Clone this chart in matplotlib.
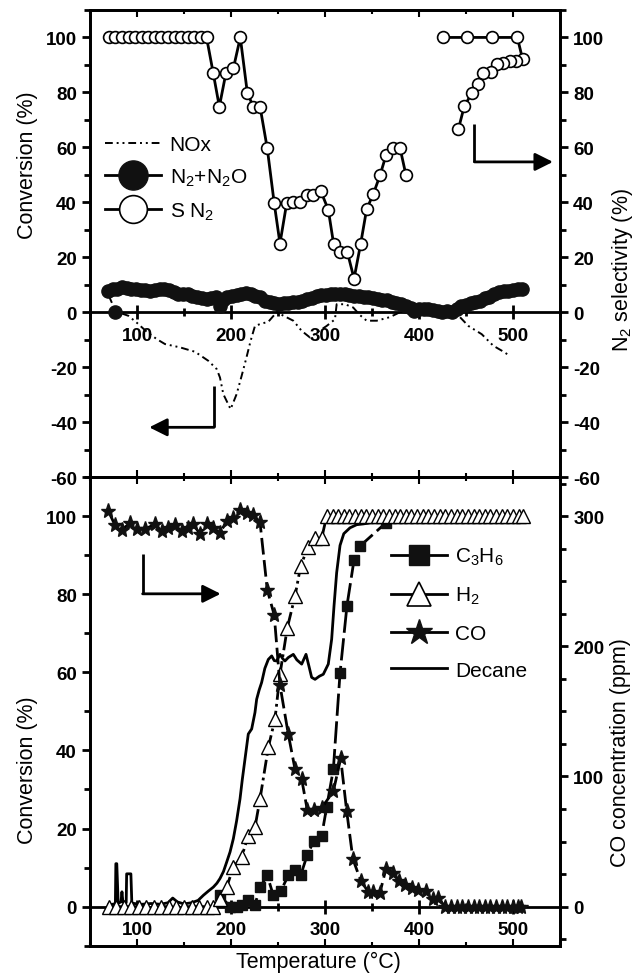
import matplotlib
matplotlib.use("Agg")
import matplotlib.pyplot as plt
import numpy as np
from matplotlib.lines import Line2D
from matplotlib.ticker import MultipleLocator

plt.rcParams['font.family'] = ['Liberation Sans', 'DejaVu Sans']
plt.rcParams['axes.unicode_minus'] = False
plt.rcParams['mathtext.default'] = 'regular'

# ---- top panel: NOx / N2+N2O conversion and N2 selectivity ----
nox_x = [70, 77, 84, 90.8, 99.7, 110, 121, 129.8, 145.7, 161.7, 175.9, 184.8, 188.3, 191.8, 199.6,
         206, 211.3, 216, 220.9, 225.5, 232, 239.7, 248.6, 257, 266.3, 275.2, 284, 293, 301.8, 310.6,
         312.4, 321.3, 330, 337, 344.3, 355, 369, 379.8, 390, 400, 410, 420, 436.5, 443.6, 452.5,
         466.7, 479, 488, 496.8]
nox_y = [6, 0.5, -0.5, -1.3, -3.8, -7, -9.8, -11.6, -12.8, -14.4, -17.7, -20.7, -23.8, -29.8, -35.3,
         -29.8, -23.2, -17.1, -10.4, -5, -4.2, -3.5, 0, -1.5, -3.1, -6.8, -9.2, -7, -5, -2.6,
         2.9, 2.9, 1.7, -1, -3.1, -3.1, -1.8, 0, 0, 0, 0, 0, 0, -1.8, -5,
         -8, -12.2, -14, -15.9]

n2_x = [77, np.nan, 69, 74, 79, 84, 89, 94, 99, 104, 109, 114, 119, 124, 129, 134, 139, 144, 149, 154,
        159, 164, 169, 174, 179, 184, 188, 192, 196, 201, 206, 211, 216, 221, 226, 231, 236, 241,
        246, 251, 256, 261, 266, 271, 276, 281, 286, 291, 296, 301, 306, 311, 316, 321, 326, 331,
        336, 341, 346, 351, 356, 361, 366, 371, 376, 381, 386, 391, 395, 400, 405, 410, 415, 420,
        425, 430, 435, 440, 445, 450, 455, 460, 465, 470, 475, 480, 485, 490, 495, 500, 505, 510]
n2_y = [0, np.nan, 7.8, 8.3, 8.6, 9.0, 8.8, 8.6, 8.5, 8.2, 7.9, 7.8, 8.0, 8.3, 8.5, 8.2, 7.3, 6.7, 6.6, 6.7,
        6.0, 5.5, 5.0, 4.8, 5.0, 5.5, 2.4, 4.5, 5.5, 6.0, 6.1, 6.5, 7.0, 6.5, 5.8, 5.5, 4.2, 3.6,
        3.2, 3.0, 3.2, 3.4, 3.6, 3.8, 4.2, 4.7, 5.2, 5.8, 6.2, 6.3, 6.5, 6.7, 6.8, 6.5, 6.1, 6.0,
        5.8, 5.6, 5.5, 5.2, 4.8, 4.6, 4.3, 3.8, 3.4, 3.0, 2.4, 1.5, 0.6, 1.2, 1.2, 1.2, 0.8, 0.3,
        0, 0.6, 0, 1.2, 2.4, 2.8, 3.2, 3.6, 4.2, 5.0, 5.6, 6.8, 7.4, 7.6, 7.8, 8.0, 8.4, 8.6]

sn2_x = [70, 77, 84, 91, 98, 105, 112, 119, 126, 133, 140, 147, 154, 161, 168, 174,
         181, 187.6, 194.7, 202.5, 209.9, 217.4, 223.7, 230.9, 238.6, 246, 252.1, 259.2, 266.3,
         273.4, 280.5, 287.6, 295.6, 303.5, 309.1, 316, 323.7, 330.9, 338, 344.3, 351.4, 358.5,
         364.9, 372, 379.8, 386.2, np.nan,
         425.2, 450.7, 477.3, 504.6, 510.3, 503.2, 496.8, 489.7, 482.6, 476.6, 468.4, 462.4,
         456, 448.2, 441.8]
sn2_y = [100] * 16 + [87.2, 74.8, 87.2, 88.7, 100, 79.8, 74.8, 74.8, 59.6, 39.6, 25, 39.6, 40,
                      40, 42.5, 42.7, 44, 37.3, 25, 22, 22, 12.2, 25, 37.5, 43, 49.8,
                      57.1, 59.8, 59.8, 49.8, np.nan,
                      100, 100, 100, 100, 92, 91.6, 91.3, 90.7, 90.5, 87.4, 87.2, 83.1,
                      79.6, 75, 66.5]

# ---- bottom panel: reductant conversion and CO concentration ----
c3h6_x = [188.3, 199, 206, 211.3, 218.4, 225.5, 230.9, 238.6, 245, 252.8, 261, 268.1, 274.1,
          281.2, 288.3, 296.5, 301.8, 308.9, 316, 323.4, 330.9, 337.6, 364.9]
c3h6_y = [2.9, 0, 0, 0.3, 1.6, 0.5, 5, 8, 2.9, 3.9, 8, 9.3, 8,
          13.3, 16.9, 18.2, 25.5, 35.2, 59.8, 77.1, 88.8, 92.4, 98.3]

h2_x = [70, 78, 86, 94, 102, 110, 118, 126, 134, 142, 150, 158, 166, 174, 181, 188.3, 195.4,
        202.5, 211.3, 218.4, 225.5, 230.9, 239.7, 246.8, 252.1, 259.9, 268.1, 274.1, 282, 289.4,
        296.5, 301.8, 308, 314, 320, 326, 332, 338, 344, 350, 356, 362, 368, 374, 380, 386, 392,
        398, 404, 410, 416, 422, 428, 434, 440, 446, 452, 458, 464, 470, 476, 482, 488, 494,
        500, 506, 511]
h2_y = [0] * 15 + [2.0, 5.0, 10.1, 12.7, 18.2, 20.3, 27.6, 40.8, 48.0, 59.5, 71.4, 79.5, 87.2,
                   92.2, 94.4, 94.4] + [100] * 36

co_x = [69.5, 76.6, 83.7, 92.6, 99.7, 108.5, 119.1, 126.3, 133.3, 140.4, 147.5, 154.6, 159.9,
        167, 174.1, 181.2, 188.3, 195.4, 202.5, 209.6, 216.7, 223.7, 230.9, 238.6, 246, 252.1,
        261, 268.1, 275.2, 281.2, 288.3, 296.5, 308.9, 316.7, 323.1, 329.7, 338, 346.1, 351.4,
        358.5, 364.9, 372, 379, 385.1, 392.2, 399.3, 407.1, 414.6, 420.5, 427.7, 434, 440, 446,
        452, 458, 464, 470, 476, 482, 488, 494, 500, 505, 509]
co_ppm = [304, 293, 289.5, 294.6, 290, 290, 293.8, 288.2, 290.8, 292.8, 288.2, 290.8, 293.8,
          286.2, 293.8, 290.8, 286.9, 296.4, 298.5, 304.9, 302.3, 301, 295.1, 243.3, 224, 170.2,
          132.3, 105.6, 97.9, 74.1, 74.1, 75.8, 88.7, 113.8, 73.3, 36.5, 20, 11.3, 11.3,
          10.8, 29.2, 26.2, 19.5, 16.4, 14.4, 12.6, 11.8, 6.2, 6.7, 0, 0, 0, 0,
          0, 0, 0, 0, 0, 0, 0, 0, 0, 0, 0]

dec_x = [70, 74, 77, 77.5, 78.5, 80, 81, 83, 84, 85, 87, 88.5, 89, 93.5, 94.5, 97, 105, 115, 125,
         133, 138, 140, 143, 150, 158, 165, 170.6, 176, 181.2, 185, 188.3, 192, 195.4, 199, 202.5,
         206, 209.6, 212, 214.9, 218.4, 222, 225.5, 227.3, 230, 232.6, 236, 239.7, 243.3, 246,
         248.6, 252.1, 255, 257.4, 261, 266.3, 270, 275.2, 279.8, 283, 285.8, 289.4, 294, 298.2,
         303.5, 307.1, 309.6, 312.4, 316, 320, 326.6, 333.7, 340.8, 358.5, 380, 420, 460, 505]
dec_y = [0.5, 0.6, 0.8, 11, 11, 0.8, 1.0, 1.2, 3.8, 1.2, 1.0, 1.0, 8.4, 8.4, 1.0, 0.8, 0.6, 0.8, 0.6,
         1.0, 2.2, 1.8, 1.2, 0.7, 1.0, 1.6, 2.9, 4.0, 5.0, 6.0, 7.2, 9.0, 11.4, 14.0, 17.4,
         22.0, 27.6, 32.5, 37.8, 44.2, 45.5, 49.7, 53.1, 55.5, 57.4, 61.0, 63.3, 64.2, 63.0,
         62.9, 64.6, 63.5, 62.9, 63.8, 64.6, 63.2, 62.1, 64.6, 61.5, 58.7, 58.2, 59.0, 59.5,
         62.1, 68.5, 77, 85.5, 92.5, 95.5, 97, 97.8, 98, 98.7, 99.2, 99.4, 99.5, 99.5]

x_ticks = [100, 200, 300, 400, 500]

TICK = 13.5
LAB = 15.5


def bold(labels):
    for t in labels:
        t.set_fontweight('bold')
        t.set_fontsize(TICK)


def style(ax, ylo, yhi, ymaj, ymin):
    ax.set_xlim(50, 550)
    ax.set_ylim(ylo, yhi)
    for s in ax.spines.values():
        s.set_linewidth(2)
    ax.xaxis.set_major_locator(MultipleLocator(100))
    ax.xaxis.set_minor_locator(MultipleLocator(50))
    ax.yaxis.set_major_locator(MultipleLocator(ymaj))
    ax.yaxis.set_minor_locator(MultipleLocator(ymin))
    ax.tick_params(axis='x', which='both', direction='in', top=True, bottom=True,
                   labelbottom=False, width=1.5)
    ax.tick_params(axis='x', which='major', length=5)
    ax.tick_params(axis='x', which='minor', length=3)
    ax.tick_params(axis='y', which='both', direction='out', width=2)
    ax.tick_params(axis='y', which='major', length=6)
    ax.tick_params(axis='y', which='minor', length=4)
    bold(ax.get_yticklabels())
    # x axis drawn through y = 0
    sec = ax.secondary_xaxis((0 - ylo) / (yhi - ylo))
    sec.spines['bottom'].set_linewidth(2)
    sec.set_xticks(x_ticks)
    sec.xaxis.set_minor_locator(MultipleLocator(50))
    sec.tick_params(which='both', direction='inout', width=2, pad=5.5)
    sec.tick_params(which='major', length=10)
    sec.tick_params(which='minor', length=6)
    bold(sec.get_xticklabels())


def twin(ax, ylo, yhi, ymaj, ymin):
    r = ax.twinx()
    r.set_ylim(ylo, yhi)
    r.yaxis.set_major_locator(MultipleLocator(ymaj))
    r.yaxis.set_minor_locator(MultipleLocator(ymin))
    r.tick_params(axis='y', which='both', direction='out', width=2)
    r.tick_params(axis='y', which='major', length=6)
    r.tick_params(axis='y', which='minor', length=4)
    for s in r.spines.values():
        s.set_linewidth(2)
    bold(r.get_yticklabels())
    return r


def l_arrow(ax, x0, y0, y1, x1):
    ax.plot([x0, x0], [y0, y1], color='k', lw=2, solid_capstyle='butt')
    ax.annotate('', xy=(x1, y1), xytext=(x0, y1),
                arrowprops=dict(arrowstyle='-|>', lw=2, color='k', mutation_scale=27,
                                shrinkA=0, shrinkB=0))


fig = plt.figure(figsize=(6.36, 9.79), dpi=100)
ax1 = fig.add_axes([0.1415, 0.5117, 0.739, 0.4771])
ax2 = fig.add_axes([0.1415, 0.0330, 0.739, 0.4787])

# top panel
style(ax1, -60, 110, 20, 10)
ax1r = twin(ax1, -60, 110, 20, 10)
ax1.plot(nox_x, nox_y, color='k', lw=1.4, ls=(0, (4, 2, 1, 2, 1, 2)))
ax1.plot(n2_x, n2_y, color='k', lw=2, marker='o', ms=9.5, mfc='#111111', mec='#111111')
ax1.plot(sn2_x, sn2_y, color='k', lw=2, marker='o', ms=8.5, mfc='white', mec='k', mew=1.2)
l_arrow(ax1, 459, 68.4, 54.7, 542.5)
l_arrow(ax1, 182, -27, -41.9, 113)
ax1.set_ylabel('Conversion (%)', fontsize=LAB)
ax1.yaxis.set_label_coords(-0.11, 0.67)
ax1r.set_ylabel('N$_2$ selectivity (%)', fontsize=LAB)
ax1r.yaxis.set_label_coords(1.106, 0.445)
h_top = [Line2D([], [], color='k', lw=1.4, ls=(0, (4, 2, 1, 2, 1, 2))),
         Line2D([], [], color='k', lw=2, marker='o', ms=21, mfc='#111111', mec='#111111'),
         Line2D([], [], color='k', lw=2, marker='o', ms=20, mfc='white', mec='k', mew=1.2)]
ax1.legend(h_top, ['NOx', 'N$_2$+N$_2$O', 'S N$_2$'], loc='upper left',
           bbox_to_anchor=(0.032, 0.732), frameon=False, fontsize=15, handlelength=2.7,
           handletextpad=0.4, labelspacing=0.6, borderpad=0, borderaxespad=0)

# bottom panel
style(ax2, -10, 110, 20, 10)
ax2r = twin(ax2, -30, 330, 100, 25)
ax2.plot(dec_x, dec_y, color='k', lw=2)
ax2.plot(c3h6_x, c3h6_y, color='k', lw=2, ls=(0, (8, 2)), marker='s', ms=7, mfc='#111111', mec='#111111')
ax2.plot(h2_x, h2_y, color='k', lw=2, ls=(0, (5, 1.5, 1, 1.5)), marker='^', ms=9.5, mfc='white', mec='k', mew=1)
ax2r.plot(co_x, co_ppm, color='k', lw=2, ls=(0, (6, 2)), marker='*', ms=11, mfc='#111111', mec='#111111')
l_arrow(ax2, 106, 90.2, 80.1, 189)
ax2.set_ylabel('Conversion (%)', fontsize=LAB)
ax2.yaxis.set_label_coords(-0.11, 0.377)
ax2r.set_ylabel('CO concentration (ppm)', fontsize=LAB)
ax2r.yaxis.set_label_coords(1.106, 0.415)
ax2.set_xlabel('Temperature (°C)', fontsize=LAB)
ax2.xaxis.set_label_coords(0.485, -0.012)
h_bot = [Line2D([], [], color='k', lw=2, marker='s', ms=14, mfc='#111111', mec='#111111'),
         Line2D([], [], color='k', lw=2, marker='^', ms=17, mfc='white', mec='k', mew=1.2),
         Line2D([], [], color='k', lw=2, marker='*', ms=19, mfc='#111111', mec='#111111'),
         Line2D([], [], color='k', lw=2)]
ax2r.legend(h_bot, ['C$_3$H$_6$', 'H$_2$', 'CO', 'Decane'], loc='upper left',
            bbox_to_anchor=(0.64, 0.853), frameon=False, fontsize=15, handlelength=2.7,
            handletextpad=0.4, labelspacing=0.85, borderpad=0, borderaxespad=0)

fig.savefig('out.png', dpi=100)
